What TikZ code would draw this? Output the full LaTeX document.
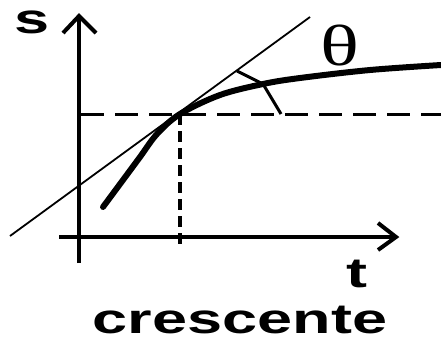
\documentclass[tikz,border=0pt]{standalone}
\usepackage{fontspec}
\setmainfont{Liberation Sans}
\newfontfamily\thetafont{Liberation Serif}
\begin{document}
\begin{tikzpicture}[x=1pt,y=-1pt,
  axisline/.style={line width=4.5pt},
  headline/.style={line width=4pt, line join=miter},
  curveline/.style={line width=6pt, line cap=round},
  tanline/.style={line width=1.8pt},
  hdash/.style={line width=3pt, dash pattern=on 23pt off 11pt},
  vdash/.style={line width=4pt, dash pattern=on 11pt off 6pt},
  anglemark/.style={line width=3pt, line join=round},
  lbl/.style={inner sep=0pt, anchor=base, font=\fontsize{42}{42}\selectfont\bfseries}]
\useasboundingbox (0,0) rectangle (441,341);
% coordinates
\coordinate (yb) at (79,263);
\coordinate (yt) at (79,16);
\coordinate (xl) at (59,237);
\coordinate (xr) at (395,237);
\coordinate (P) at (180,114);
\coordinate (hR) at (441,114);
\coordinate (hL) at (81,114);
\coordinate (vB) at (180,250);
\coordinate (tA) at (10,236);
\coordinate (tB) at (310,17);
% axes
\draw[axisline] (yb) -- (yt);
\draw[headline] (63,33) -- (79,16) -- (96,33);
\draw[axisline] (xl) -- (xr);
\draw[headline] (378,223) -- (396,237) -- (378,250);
% dashed guides
\draw[hdash] (hL) -- (hR);
\draw[vdash] (P) -- (vB);
% tangent
\draw[tanline] (tA) -- (tB);
% curve
\draw[curveline] plot[smooth, tension=0.55] coordinates
  {(103,207) (123,180) (140,157) (157,134) (180,114) (220,95) (263,84) (300,78) (370,70) (441,65)};
% angle mark
\draw[anglemark] (237,71) -- (263,84) -- (281,114);
% labels
\node[lbl] (s) at (32,33) {\scalebox{1.5}[1]{s}};
\node[lbl] (t) at (357,287) {\scalebox{1.5}[1]{t}};
\node[lbl] (cr) at (240,333) {\scalebox{1.5}[1]{crescente}};
\node[inner sep=0pt, font=\fontsize{58}{58}\selectfont\thetafont] (th) at (340,46) {\scalebox{1.4}[1]{θ}};
\end{tikzpicture}
\end{document}
